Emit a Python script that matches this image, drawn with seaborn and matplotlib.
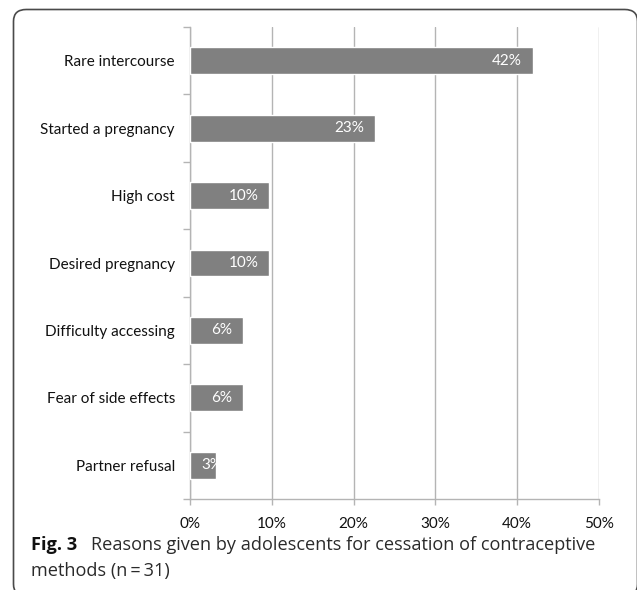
import matplotlib
matplotlib.use("Agg")
import matplotlib.pyplot as plt
from matplotlib.patches import FancyBboxPatch
from matplotlib.ticker import FixedLocator, PercentFormatter
import seaborn as sns
import pandas as pd

# Reasons for stopping contraception (share of n = 31 adolescents, %)
reasons = [
    "Rare intercourse",
    "Started a pregnancy",
    "High cost",
    "Desired pregnancy",
    "Difficulty accessing",
    "Fear of side effects",
    "Partner refusal",
]
shares = [41.9, 22.6, 9.7, 9.7, 6.5, 6.5, 3.2]
x_ticks = [0, 10, 20, 30, 40, 50]

sns.set_theme(style="white")
plt.rcParams["font.family"] = ["Lato", "DejaVu Sans"]

W, H = 637, 590
fig = plt.figure(figsize=(W / 100, H / 100), dpi=100)
ax = fig.add_axes([190 / W, 1 - 499 / H, (599 - 190) / W, (499 - 27) / H])

df = pd.DataFrame({"reason": reasons, "share": shares})
sns.barplot(data=df, x="share", y="reason", orient="h", color="#808080",
            saturation=1, width=0.4, ax=ax, zorder=3)

grid_c = "#b4b4b4"
ax.set_xlim(0, 50)
ax.set_ylim(len(reasons) - 0.5, -0.5)
ax.set_xticks(x_ticks)
ax.xaxis.set_major_formatter(PercentFormatter(decimals=0))
ax.grid(axis="x", color=grid_c, linewidth=1.0, zorder=0)
ax.grid(axis="y", visible=False)
ax.set_xlabel("")
ax.set_ylabel("")

for side in ("top", "right"):
    ax.spines[side].set_visible(False)
for side in ("left", "bottom"):
    ax.spines[side].set_color(grid_c)
    ax.spines[side].set_linewidth(1.0)

ax.tick_params(axis="x", which="major", bottom=True, length=4, width=1,
               color=grid_c, pad=9, labelsize=11, labelcolor="#111111")
ax.tick_params(axis="y", which="major", left=False, length=0, pad=10.8,
               labelsize=11, labelcolor="#111111")
ax.yaxis.set_minor_locator(FixedLocator([i - 0.5 for i in range(len(reasons) + 1)]))
ax.tick_params(axis="y", which="minor", left=True, length=5, width=1, color=grid_c)

# value labels at the inner end of each bar
for bar, v in zip(ax.patches, shares):
    y = bar.get_y() + bar.get_height() / 2
    if v >= 5:
        t = ax.annotate(f"{v:.0f}%", xy=(v, y), xytext=(-8, 0),
                        textcoords="offset points", ha="right", va="center",
                        color="white", fontsize=11, zorder=4)
    else:
        t = ax.annotate(f"{v:.0f}%", xy=(0, y), xytext=(8, 0),
                        textcoords="offset points", ha="left", va="center",
                        color="white", fontsize=11, zorder=4)
        t.set_clip_path(bar)

# caption
cap_font = ["Open Sans", "DejaVu Sans"]
cap_size = 13.1
fig.text(31 / W, 1 - 545 / H, "Fig. 3", fontsize=cap_size, fontweight="bold",
         family=cap_font, color="#111111", va="center", ha="left")
fig.text(91 / W, 1 - 545 / H,
         "Reasons given by adolescents for cessation of contraceptive",
         fontsize=cap_size, family=cap_font, color="#2a2a2a", va="center", ha="left")
fig.text(31 / W, 1 - 571 / H, "methods (n\u2009=\u200931)", fontsize=cap_size,
         family=cap_font, color="#2a2a2a", va="center", ha="left")

# outer frame with rounded corners
frame = FancyBboxPatch((13.5 / W, -6 / H), (637.5 - 13.5) / W, (H - 9.5 + 6) / H,
                       boxstyle="round,pad=0,rounding_size=0.02",
                       transform=fig.transFigure, fill=False,
                       edgecolor="#4a4a4a", linewidth=1.2, clip_on=False)
fig.patches.append(frame)

fig.savefig("out.png", dpi=100)
